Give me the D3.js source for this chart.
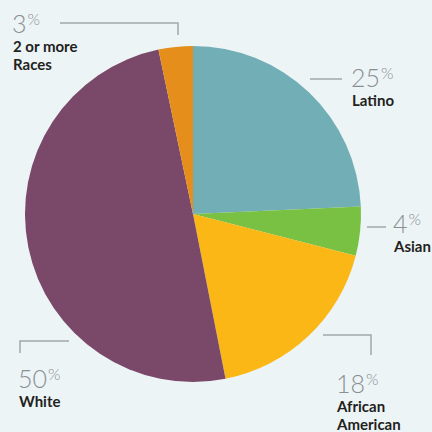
<!DOCTYPE html>
<html>
<head>
<meta charset="utf-8">
<script src="https://cdn.jsdelivr.net/npm/d3@7"></script>
<style>
  html, body { margin: 0; padding: 0; background: #edf4f6; }
  svg { display: block; }
  .pct { font-family: Lato, "Open Sans", sans-serif; font-weight: 300; fill: #8a8f93; }
  .lbl { font-family: Lato, "Open Sans", sans-serif; font-weight: 700; fill: #231f20; font-size: 15px; }
  .leader { fill: none; stroke: #a3a8ab; stroke-width: 1.5; }
</style>
</head>
<body>
<div id="chart"></div>
<script>
// data
const groups = ["Latino", "Asian", "African American", "White", "2 or more Races"];
const shares = [24.3, 4.7, 17.9, 49.8, 3.3];
const shownPct = ["25", "4", "18", "50", "3"];
const labelLines = [["Latino"], ["Asian"], ["African", "American"], ["White"], ["2 or more", "Races"]];
const colors = ["#72aeb6", "#79c143", "#fbb716", "#7a4869", "#e68e1c"];

// where each annotation sits (layout only)
const labelLayout = [
  { x: 351, y: 87, leader: [[310, 79], [342, 79]] },
  { x: 393, y: 233, leader: [[367, 227], [386, 227]] },
  { x: 336, y: 393, leader: [[323, 335], [371, 335], [371, 355]] },
  { x: 18, y: 388, leader: [[20, 353], [20, 341], [69, 341]] },
  { x: 12, y: 33, leader: [[60, 23], [178, 23], [178, 35]] }
];

const W = 432, H = 432;
const cx = 193, cy = 214, radius = 168;

const svg = d3.select("#chart").append("svg")
  .attr("width", W)
  .attr("height", H);

svg.append("rect").attr("width", W).attr("height", H).attr("fill", "#edf4f6");

const pie = d3.pie().sort(null).value(d => d)(shares);
const arc = d3.arc().innerRadius(0).outerRadius(radius);

svg.append("g")
  .attr("transform", `translate(${cx},${cy})`)
  .selectAll("path")
  .data(pie)
  .join("path")
  .attr("d", arc)
  .attr("fill", (d, i) => colors[i]);

const line = d3.line();

labelLayout.forEach((l, i) => {
  svg.append("path").attr("class", "leader").attr("d", line(l.leader));

  const t = svg.append("text")
    .attr("class", "pct")
    .attr("x", l.x)
    .attr("y", l.y)
    .style("font-size", "25px");
  t.append("tspan").text(shownPct[i]);
  t.append("tspan")
    .attr("dx", 1)
    .attr("dy", -8)
    .style("font-size", "16px")
    .text("%");

  labelLines[i].forEach((s, j) => {
    svg.append("text")
      .attr("class", "lbl")
      .attr("x", l.x + 1)
      .attr("y", l.y + 18.5 + j * 18)
      .text(s);
  });
});
</script>
</body>
</html>
